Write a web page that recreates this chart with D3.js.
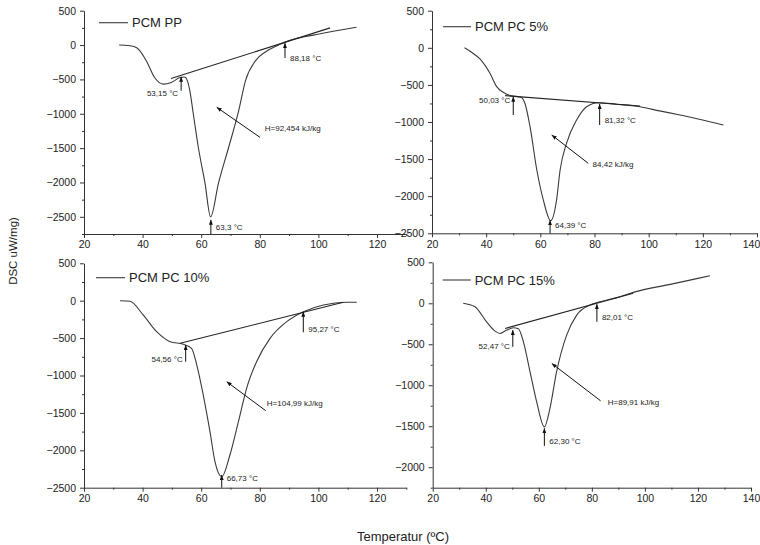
<!DOCTYPE html>
<html>
<head>
<meta charset="utf-8">
<script src="https://cdn.jsdelivr.net/npm/d3@7"></script>
<style>
  body { margin: 0; background: #fff; }
  svg { display: block; font-family: "Liberation Sans", Arial, sans-serif; }
  .axis .domain, .axis line { stroke: #333; stroke-width: 1; }
  .axis text { font-size: 10.5px; fill: #222; }
</style>
</head>
<body>
<svg id="chart" width="760" height="545"></svg>
<script>
// tick labels
const tempTicks = [20, 40, 60, 80, 100, 120, 140];
const dscTicks = [500, 0, -500, -1000, -1500, -2000, -2500];

// PCM PP
const ppTemp = [32, 35.7, 38, 41.3, 44.1, 47, 49.8, 52.8, 54.4, 55.2, 56.1, 57.3, 59, 61.3, 63.2, 65.9, 69.4, 72.8, 75.1, 78.5, 82.4, 86.9, 90.3, 99.4, 113];
const ppDsc = [0, -10, -39, -231, -473, -568, -545, -473, -465, -510, -660, -1000, -1484, -2010, -2500, -2010, -1484, -954, -520, -231, -87, 10, 68, 154, 260];
const ppBaseTemp = [49.7, 104];
const ppBaseDsc = [-487, 250];

// PCM PC 5%
const pc5Temp = [32, 35, 37.7, 41.4, 43.9, 46.3, 48.5, 51, 53, 54.3, 56.2, 58.7, 61.1, 63.8, 66, 67.3, 69.7, 73.4, 77.1, 81.4, 88, 96.8, 104, 111.6, 127.6];
const pc5Dsc = [0, -70, -150, -344, -524, -600, -640, -655, -670, -748, -1063, -1647, -2050, -2330, -2050, -1647, -1284, -973, -794, -740, -760, -795, -850, -906, -1040];
const pc5BaseTemp = [47, 96.8];
const pc5BaseDsc = [-645, -785];

// PCM PC 10%
const pc10Temp = [32.3, 35.7, 40.2, 44.8, 49.4, 53.9, 56.7, 58.5, 60.7, 63, 64.7, 67, 69.8, 72.7, 75.5, 78.9, 83.5, 89.2, 94.9, 101.7, 109.7, 113.1];
const pc10Dsc = [0, -8, -191, -414, -548, -583, -637, -860, -1261, -1751, -2152, -2353, -2063, -1617, -1171, -815, -503, -280, -147, -57, -21, -21];
const pc10BaseTemp = [52.8, 108.5];
const pc10BaseDsc = [-570, -21];

// PCM PC 15%
const pc15Temp = [31.5, 35.9, 40.3, 43.5, 45.4, 47.9, 50.4, 52.3, 54.2, 56.7, 59.2, 62.1, 64.2, 66.7, 70.5, 74.3, 79.3, 83.1, 90.6, 95.6, 110, 124.5];
const pc15Dsc = [0, -42, -226, -340, -368, -327, -299, -310, -470, -836, -1203, -1508, -1283, -836, -388, -144, -22, 18, 79, 133, 234, 336];
const pc15BaseTemp = [47.3, 95.6];
const pc15BaseDsc = [-307, 122];

// point labels: arrow at temperature t from tail up to tip, text centred at value "at"
const ppMarks = [
  { text: "53,15 °C", t: 53.15, tip: -462, tail: -665, at: -708, left: true },
  { text: "88,18 °C", t: 88.6, tip: 29, tail: -188, at: -188 },
  { text: "63,3 °C", t: 63.3, tip: -2543, tail: -2750, at: -2645 }
];
const pc5Marks = [
  { text: "50,03 °C", t: 50, tip: -659, tail: -906, at: -703, left: true },
  { text: "81,32 °C", t: 81.9, tip: -757, tail: -1040, at: -982 },
  { text: "64,39 °C", t: 63.6, tip: -2323, tail: -2500, at: -2388 }
];
const pc10Marks = [
  { text: "54,56 °C", t: 54.7, tip: -592, tail: -816, at: -779, left: true },
  { text: "95,27 °C", t: 94.85, tip: -147, tail: -422, at: -378 },
  { text: "66,73 °C", t: 67, tip: -2330, tail: -2500, at: -2370 }
];
const pc15Marks = [
  { text: "52,47 °C", t: 50.2, tip: -327, tail: -531, at: -519, left: true },
  { text: "82,01 °C", t: 81.9, tip: -10, tail: -226, at: -165 },
  { text: "62,30 °C", t: 62.1, tip: -1524, tail: -1740, at: -1679 }
];

// enthalpy labels: arrow from tail to head, text at (tt, tv)
const ppHeat = { text: "H=92,454 kJ/kg", t0: 80.1, v0: -1344, t1: 65.3, v1: -906, tt: 81.7, tv: -1214 };
const pc5Heat = { text: "84,42 kJ/kg", t0: 77.7, v0: -1557, t1: 64.2, v1: -1175, tt: 79.3, tv: -1570 };
const pc10Heat = { text: "H=104,99 kJ/kg", t0: 82, v0: -1470, t1: 68.7, v1: -1083, tt: 82.4, tv: -1372 };
const pc15Heat = { text: "H=89,91 kJ/kg", t0: 83.3, v0: -1190, t1: 64.9, v1: -734, tt: 86, tv: -1203 };

const panels = [
  { name: "PCM PP", temp: ppTemp, dsc: ppDsc, baseT: ppBaseTemp, baseV: ppBaseDsc, marks: ppMarks, heat: ppHeat,
    xDom: [20, 130], yDom: [-2750, 500], x0: 84, x1: 406.3, y0: 10.7, y1: 234, leg: [15, 44, 12] },
  { name: "PCM PC 5%", temp: pc5Temp, dsc: pc5Dsc, baseT: pc5BaseTemp, baseV: pc5BaseDsc, marks: pc5Marks, heat: pc5Heat,
    xDom: [20, 140], yDom: [-2500, 500], x0: 432, x1: 757, y0: 10.7, y1: 233.3, leg: [11, 39, 16] },
  { name: "PCM PC 10%", temp: pc10Temp, dsc: pc10Dsc, baseT: pc10BaseTemp, baseV: pc10BaseDsc, marks: pc10Marks, heat: pc10Heat,
    xDom: [20, 130], yDom: [-2500, 500], x0: 84, x1: 406.3, y0: 263.3, y1: 487.7, leg: [12, 41, 14.4] },
  { name: "PCM PC 15%", temp: pc15Temp, dsc: pc15Dsc, baseT: pc15BaseTemp, baseV: pc15BaseDsc, marks: pc15Marks, heat: pc15Heat,
    xDom: [20, 140], yDom: [-2250, 500], x0: 432.7, x1: 751, y0: 262.3, y1: 487.7, leg: [10, 38, 17.7] }
];

const width = 760;
const svg = d3.select("#chart");

// arrow head
svg.append("defs").append("marker")
    .attr("id", "head")
    .attr("viewBox", "0 0 10 8")
    .attr("refX", 10).attr("refY", 4)
    .attr("markerWidth", 5).attr("markerHeight", 4)
    .attr("markerUnits", "userSpaceOnUse")
    .attr("orient", "auto")
  .append("path")
    .attr("d", "M0,0L10,4L0,8Z")
    .attr("fill", "#111");

panels.forEach(p => {
    const x = d3.scaleLinear().domain(p.xDom).range([p.x0, p.x1]);
    const y = d3.scaleLinear().domain(p.yDom).range([p.y1, p.y0]);

    const xMajor = tempTicks.filter(d => d >= p.xDom[0] && d <= p.xDom[1]);
    const xMinor = xMajor.map(d => d + 10).filter(d => d <= p.xDom[1]);
    const yMajor = dscTicks.filter(d => d >= p.yDom[0] && d <= p.yDom[1]);
    const yMinor = yMajor.map(d => d - 250).filter(d => d >= p.yDom[0]);

    // x axis
    const gx = svg.append("g").attr("class", "axis")
        .attr("transform", `translate(0,${p.y1})`)
        .call(d3.axisBottom(x).tickValues(xMajor).tickSize(4).tickSizeOuter(0).tickPadding(3).tickFormat(d3.format("d")));
    // keep the last label inside the page
    gx.selectAll(".tick text").each(function (d) {
        const over = x(d) + 9 - width;
        if (over > 0) d3.select(this).attr("dx", -over);
    });
    svg.append("g").attr("class", "axis")
        .attr("transform", `translate(0,${p.y1})`)
        .call(d3.axisBottom(x).tickValues(xMinor).tickSize(2).tickFormat(""))
        .select(".domain").remove();

    // y axis
    svg.append("g").attr("class", "axis")
        .attr("transform", `translate(${p.x0},0)`)
        .call(d3.axisLeft(y).tickValues(yMajor).tickSize(4).tickSizeOuter(0).tickPadding(4).tickFormat(d3.format("d")));
    svg.append("g").attr("class", "axis")
        .attr("transform", `translate(${p.x0},0)`)
        .call(d3.axisLeft(y).tickValues(yMinor).tickSize(2).tickFormat(""))
        .select(".domain").remove();

    // DSC curve
    const line = d3.line().x(d => x(d[0])).y(d => y(d[1])).curve(d3.curveMonotoneX);
    svg.append("path")
        .attr("d", line(d3.zip(p.temp, p.dsc)))
        .attr("fill", "none")
        .attr("stroke", "#3a3a3a")
        .attr("stroke-width", 1.1);

    // baseline tangent
    svg.append("path")
        .attr("d", d3.line().x(d => x(d[0])).y(d => y(d[1]))(d3.zip(p.baseT, p.baseV)))
        .attr("fill", "none")
        .attr("stroke", "#222")
        .attr("stroke-width", 1.1);

    // legend
    svg.append("line")
        .attr("x1", p.x0 + p.leg[0]).attr("x2", p.x0 + p.leg[1])
        .attr("y1", p.y0 + p.leg[2]).attr("y2", p.y0 + p.leg[2])
        .attr("stroke", "#3a3a3a").attr("stroke-width", 1.1);
    svg.append("text")
        .attr("x", p.x0 + p.leg[1] + 4)
        .attr("y", p.y0 + p.leg[2])
        .attr("dy", "0.35em")
        .style("font-size", "13px")
        .style("fill", "#222")
        .text(p.name);

    // temperature markers
    p.marks.forEach(m => {
        svg.append("line")
            .attr("x1", x(m.t)).attr("x2", x(m.t))
            .attr("y1", y(m.tail)).attr("y2", y(m.tip))
            .attr("stroke", "#111").attr("stroke-width", 1)
            .attr("marker-end", "url(#head)");
        svg.append("text")
            .attr("x", x(m.t) + (m.left ? -3 : 5))
            .attr("y", y(m.at))
            .attr("dy", "0.35em")
            .attr("text-anchor", m.left ? "end" : "start")
            .style("font-size", "8px")
            .style("fill", "#222")
            .text(m.text);
    });

    // enthalpy arrow
    const h = p.heat;
    svg.append("line")
        .attr("x1", x(h.t0)).attr("y1", y(h.v0))
        .attr("x2", x(h.t1)).attr("y2", y(h.v1))
        .attr("stroke", "#111").attr("stroke-width", 1)
        .attr("marker-end", "url(#head)");
    svg.append("text")
        .attr("x", x(h.tt))
        .attr("y", y(h.tv))
        .attr("dy", "0.35em")
        .style("font-size", "8px")
        .style("fill", "#222")
        .text(h.text);
});

// shared axis titles
svg.append("text")
    .attr("transform", "translate(17,251) rotate(-90)")
    .attr("text-anchor", "middle")
    .style("font-size", "11.5px")
    .style("fill", "#222")
    .text("DSC uW/mg)");

svg.append("text")
    .attr("x", 403)
    .attr("y", 541)
    .attr("text-anchor", "middle")
    .style("font-size", "13px")
    .style("fill", "#222")
    .text("Temperatur (ºC)");
</script>
</body>
</html>
